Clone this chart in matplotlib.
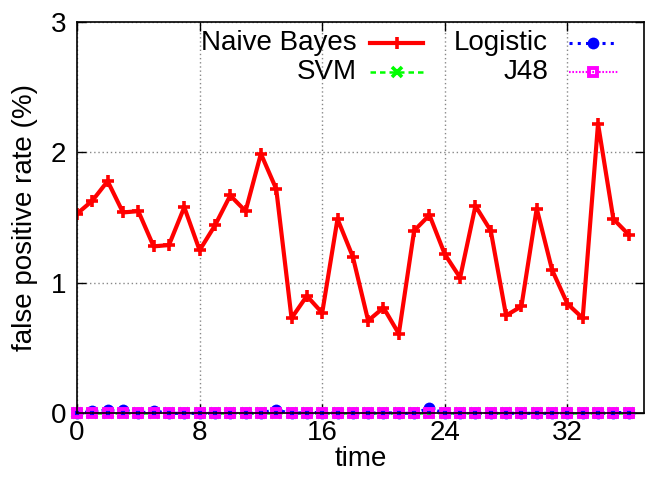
import matplotlib
matplotlib.use("Agg")
import matplotlib.pyplot as plt
from matplotlib.lines import Line2D

plt.rcParams['font.family'] = ['Liberation Sans', 'DejaVu Sans']
plt.rcParams['font.size'] = 20

# data
time = list(range(37))
naive_bayes = [1.53, 1.63, 1.78, 1.54, 1.55, 1.28, 1.29, 1.58, 1.25, 1.44,
               1.67, 1.55, 1.99, 1.72, 0.73, 0.90, 0.77, 1.49, 1.20, 0.71,
               0.81, 0.61, 1.40, 1.52, 1.22, 1.04, 1.59, 1.40, 0.75, 0.82,
               1.57, 1.10, 0.84, 0.73, 2.22, 1.49, 1.37]
svm = [0.0] * 37
logistic = [0.0, 0.015, 0.025, 0.025, 0.0, 0.018, 0.0, 0.0, 0.0, 0.0,
            0.0, 0.0, 0.006, 0.025, 0.0, 0.006, 0.006, 0.0, 0.0, 0.0,
            0.006, 0.0, 0.0, 0.04, 0.0, 0.0, 0.006, 0.0, 0.0, 0.0,
            0.0, 0.0, 0.0, 0.0, 0.0, 0.006, 0.006]
j48 = [0.0] * 37

xticks = [0, 8, 16, 24, 32]
yticks = [0, 1, 2, 3]

fig = plt.figure(figsize=(6.46, 4.87), dpi=100)
ax = fig.add_axes([0.1192, 0.1513, 0.8777, 0.8035])

styles = [
    dict(label='Naive Bayes', color='red', lw=3.0, ls='-', marker='+', ms=8.5, mew=2.6),
    dict(label='SVM', color='#00ff00', lw=1.8, ls=(0, (2.2, 1.6)), marker='x', ms=7, mew=2.6),
    dict(label='Logistic', color='blue', lw=2.2, ls=(0, (1, 1.7)), marker='o', ms=8.5, mew=0),
    dict(label='J48', color='magenta', lw=1.5, ls=(0, (0.8, 0.8)), marker='s', ms=5.5, mew=2.8,
         mfc='none'),
]
series = [naive_bayes, svm, logistic, j48]

for s, vals in zip(styles, series):
    kw = {k: v for k, v in s.items() if k != 'label'}
    ax.plot(time, vals, clip_on=(s['label'] == 'Naive Bayes'), **kw)

ax.set_xlim(0, 37)
ax.set_ylim(0, 3)
ax.set_xticks(xticks)
ax.set_yticks(yticks)
ax.tick_params(direction='in', top=True, right=True, length=6.5, width=1)
ax.tick_params(axis='y', pad=8)
ax.tick_params(axis='x', pad=5)
for sp in ax.spines.values():
    sp.set_linewidth(1.2)
ax.grid(True, color='#888888', lw=1, ls=(0, (1, 2)))
ax.set_xlabel('time', labelpad=0)
ax.set_ylabel('false positive rate (%)', labelpad=9)

# gnuplot-like legend: right-aligned text, sample to the right
cols = [(0.4938, 0.5168, 0.6102), (0.8307, 0.8677, 0.9541)]
rows = [0.9456, 0.873]
pos = [(0, 0), (0, 1), (1, 0), (1, 1)]
for s, (c, r) in zip(styles, pos):
    tx, x0, x1 = cols[c]
    y = rows[r]
    ax.text(tx, y, s['label'], transform=ax.transAxes, ha='right', va='center')
    kw = {k: v for k, v in s.items() if k not in ('label', 'marker', 'ms', 'mew', 'mfc')}
    ax.add_line(Line2D([x0, x1], [y, y], transform=ax.transAxes, **kw))
    mk = {k: v for k, v in s.items() if k in ('color', 'marker', 'ms', 'mew', 'mfc')}
    ax.add_line(Line2D([(x0 + x1) / 2], [y], transform=ax.transAxes, ls='none', **mk))

fig.savefig('out.png', dpi=100)
